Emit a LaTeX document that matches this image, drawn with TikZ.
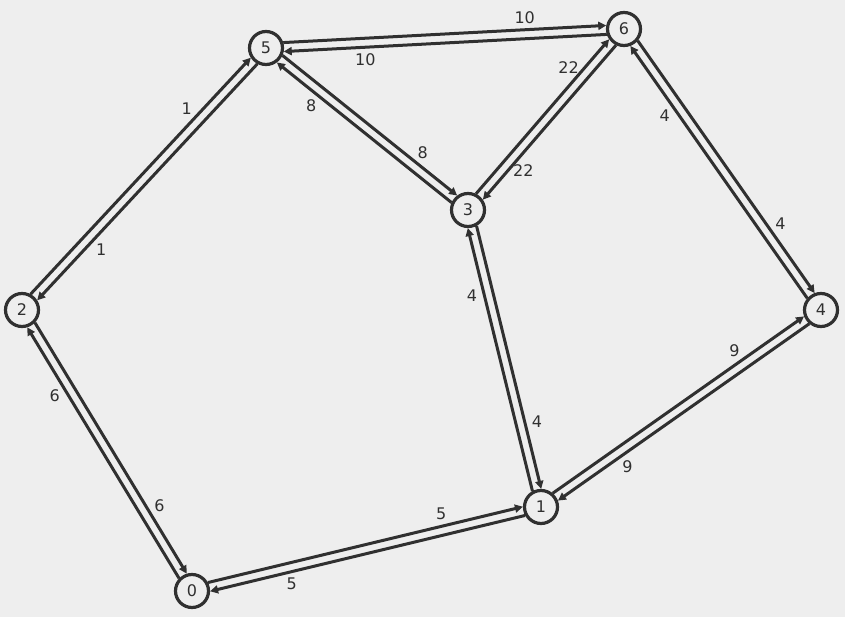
\documentclass[tikz,border=0pt]{standalone}
\usepackage{fontspec}
\setmainfont{DejaVu Sans}
\usetikzlibrary{calc,arrows.meta}
\definecolor{bg}{HTML}{EEEEEE}
\definecolor{ink}{HTML}{303030}

\begin{document}
\begin{tikzpicture}[
  x=1pt, y=-1pt,
  vertex/.style = {shape=circle, draw=ink, line width=3.2pt, fill=bg, minimum size=33pt, inner sep=0pt, text=ink, font=\fontsize{16}{18}\selectfont},
  arc/.style = {draw=ink, line width=3pt, -{Triangle[length=8pt,width=8pt]}, shorten <=17.5pt, shorten >=17.5pt},
  weight/.style = {inner sep=0pt, text=ink, font=\fontsize{16}{18}\selectfont}
]
  \fill[bg] (0,0) rectangle (845,617);

  % vertices
  \node[vertex] (n0) at (192,591) {0};
  \node[vertex] (n1) at (541,507) {1};
  \node[vertex] (n2) at (22,310) {2};
  \node[vertex] (n3) at (468,210) {3};
  \node[vertex] (n4) at (821,310) {4};
  \node[vertex] (n5) at (266,48) {5};
  \node[vertex] (n6) at (624,29) {6};

  % both directions of every edge, each on its own left side
  \foreach \a/\b/\w in {5/6/10, 6/5/10, 5/2/1, 2/5/1, 5/3/8, 3/5/8,
                        3/6/22, 6/3/22, 6/4/4, 4/6/4, 1/3/4, 3/1/4,
                        1/4/9, 4/1/9, 0/2/6, 2/0/6, 0/1/5, 1/0/5}
  {
    \coordinate (s) at ($(n\a.center)!4.5pt!90:(n\b.center)$);
    \coordinate (e) at ($(n\b.center)!4.5pt!-90:(n\a.center)$);
    \coordinate (m) at ($(s)!0.725!(e)$);
    \draw[arc] (s) -- (e);
    \node[weight] (w\a\b) at ($(m)!12pt!90:(e)$) {\w};
  }
\end{tikzpicture}
\end{document}
